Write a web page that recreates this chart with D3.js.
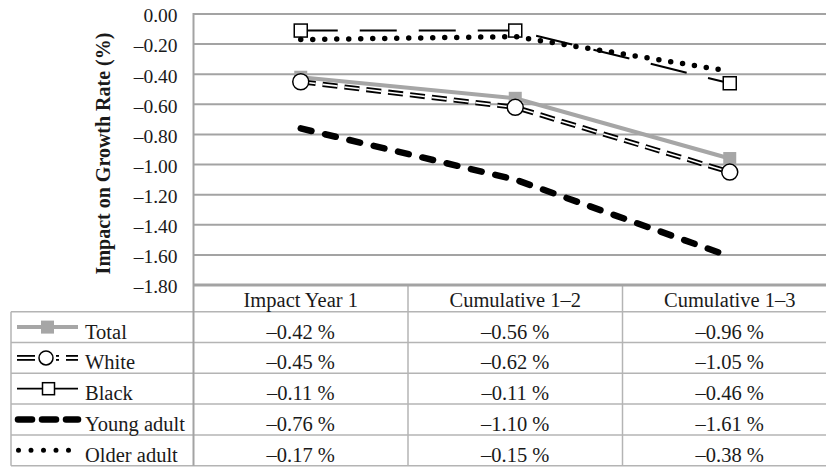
<!DOCTYPE html>
<html>
<head>
<meta charset="utf-8">
<script src="https://cdn.jsdelivr.net/npm/d3@7"></script>
<style>
  html, body { margin: 0; padding: 0; background: #fff; }
  svg { display: block; }
</style>
</head>
<body>
<svg id="chart" width="826" height="468" font-family="Liberation Serif"></svg>
<script>
// Periods shown on the x axis / table columns
const periods = ["Impact Year 1", "Cumulative 1\u20132", "Cumulative 1\u20133"];

// Impact on growth rate (%) by group
const totalValues = [-0.42, -0.56, -0.96];
const whiteValues = [-0.45, -0.62, -1.05];
const blackValues = [-0.11, -0.11, -0.46];
const youngValues = [-0.76, -1.10, -1.61];
const olderValues = [-0.17, -0.15, -0.38];

const seriesNames = ["Total", "White", "Black", "Young adult", "Older adult"];

// Y axis ticks
const yTicks = [0, -0.2, -0.4, -0.6, -0.8, -1.0, -1.2, -1.4, -1.6, -1.8];

const series = [
  { name: seriesNames[0], values: totalValues, kind: "total" },
  { name: seriesNames[1], values: whiteValues, kind: "white" },
  { name: seriesNames[2], values: blackValues, kind: "black" },
  { name: seriesNames[3], values: youngValues, kind: "young" },
  { name: seriesNames[4], values: olderValues, kind: "older" }
];

const FONT = "Liberation Serif";
const FS_TICK = 19.5;
const FS = 20.5;
const textColor = "#1a1a1a";

const svg = d3.select("#chart");
const gridColor = "#a3a3a3";
const tableColor = "#b4b4b4";
const grey = "#a6a6a6";

const plotLeft = 193.5, plotRight = 837, plotTop = 14, plotBottom = 285;
const tableLeft = 11, headerBottom = 311.7, tableBottom = 465.7;

const x = d3.scaleBand().domain(periods).range([plotLeft, plotRight]).padding(0);
const y = d3.scaleLinear().domain([-1.8, 0]).range([plotBottom, plotTop]);
const rows = d3.scaleBand().domain(seriesNames).range([headerBottom, tableBottom]).padding(0);

const fmt = v => (v < 0 ? "\u2013" : "") + Math.abs(v).toFixed(2);

// Gridlines
svg.append("g")
  .selectAll("line")
  .data(yTicks.filter(t => t !== -1.8))
  .join("line")
  .attr("x1", plotLeft).attr("x2", plotRight)
  .attr("y1", d => y(d)).attr("y2", d => y(d))
  .attr("stroke", gridColor).attr("stroke-width", 2);

// Y axis labels
const yAxis = d3.axisLeft(y).tickValues(yTicks).tickFormat(fmt).tickSize(0).tickPadding(16);
const yg = svg.append("g").attr("transform", `translate(${plotLeft},0)`).call(yAxis)
  .attr("font-family", FONT).attr("font-size", FS_TICK);
yg.select(".domain").remove();
yg.selectAll("text")
  .attr("font-family", FONT)
  .attr("font-size", FS_TICK)
  .attr("fill", textColor)
  .attr("dy", "0.4em");

// Y axis title
svg.append("text")
  .attr("transform", `translate(110,${(plotTop + plotBottom) / 2 + 4}) rotate(-90)`)
  .attr("text-anchor", "middle")
  .attr("font-family", FONT)
  .attr("font-size", 20)
  .attr("font-weight", "bold")
  .attr("fill", textColor)
  .text("Impact on Growth Rate (%)");

// Data table grid
const tg = svg.append("g").attr("stroke", tableColor).attr("stroke-width", 1.5);
tg.selectAll("line.row")
  .data(seriesNames)
  .join("line")
  .attr("x1", tableLeft).attr("x2", plotRight)
  .attr("y1", d => rows(d) + rows.bandwidth()).attr("y2", d => rows(d) + rows.bandwidth());
tg.append("line")
  .attr("x1", tableLeft).attr("x2", plotRight)
  .attr("y1", headerBottom).attr("y2", headerBottom);
tg.append("line").attr("x1", tableLeft).attr("x2", tableLeft).attr("y1", headerBottom).attr("y2", tableBottom);
tg.selectAll("line.col")
  .data(periods.slice(1))
  .join("line")
  .attr("x1", d => x(d)).attr("x2", d => x(d))
  .attr("y1", plotBottom).attr("y2", tableBottom);

// Plot frame: left axis line and bottom line
svg.append("line")
  .attr("x1", plotLeft).attr("x2", plotLeft)
  .attr("y1", plotTop - 1).attr("y2", tableBottom)
  .attr("stroke", gridColor).attr("stroke-width", 2);
svg.append("line")
  .attr("x1", plotLeft).attr("x2", plotRight)
  .attr("y1", plotBottom).attr("y2", plotBottom)
  .attr("stroke", gridColor).attr("stroke-width", 2.8);

// Line styles per series
function drawLine(g, pts, kind) {
  const p = d3.line()(pts);
  const base = () => g.append("path").attr("d", p).attr("fill", "none");
  if (kind === "total") {
    base().attr("stroke", grey).attr("stroke-width", 4);
  } else if (kind === "white") {
    base().attr("stroke", "#000").attr("stroke-width", 5.2).attr("stroke-dasharray", "15,7");
    base().attr("stroke", "#fff").attr("stroke-width", 1.6).attr("stroke-dasharray", "15,7");
  } else if (kind === "black") {
    base().attr("stroke", "#000").attr("stroke-width", 2).attr("stroke-dasharray", "37,22");
  } else if (kind === "young") {
    base().attr("stroke", "#000").attr("stroke-width", 6.5)
      .attr("stroke-linecap", "round").attr("stroke-dasharray", "11,14");
  } else if (kind === "older") {
    base().attr("stroke", "#000").attr("stroke-width", 5.5)
      .attr("stroke-linecap", "round").attr("stroke-dasharray", "0,12");
  }
}

function drawMarker(g, cx, cy, kind, size) {
  if (kind === "total") {
    g.append("rect").attr("x", cx - size / 2).attr("y", cy - size / 2)
      .attr("width", size).attr("height", size).attr("fill", grey);
  } else if (kind === "white") {
    g.append("circle").attr("cx", cx).attr("cy", cy).attr("r", size / 2 + 0.5)
      .attr("fill", "#fff").attr("stroke", "#000").attr("stroke-width", 1.5);
  } else if (kind === "black") {
    g.append("rect").attr("x", cx - size / 2).attr("y", cy - size / 2)
      .attr("width", size).attr("height", size)
      .attr("fill", "#fff").attr("stroke", "#000").attr("stroke-width", 1.5);
  }
}

// Series lines and markers
const center = d => x(d) + x.bandwidth() / 2;
series.forEach(s => {
  const g = svg.append("g").attr("class", "series");
  const pts = s.values.map((v, i) => [center(periods[i]), y(v)]);
  drawLine(g, pts, s.kind);
  pts.forEach(([cx, cy]) => drawMarker(g, cx, cy, s.kind, s.kind === "white" ? 15 : 13));
});

// Table header
svg.append("g")
  .selectAll("text")
  .data(periods)
  .join("text")
  .attr("x", d => center(d))
  .attr("y", headerBottom - 5)
  .attr("text-anchor", "middle")
  .attr("font-family", FONT)
  .attr("font-size", FS)
  .attr("fill", textColor)
  .text(d => d);

// Table rows: legend key, name, values
series.forEach(s => {
  const top = rows(s.name), h = rows.bandwidth();
  const cy = top + h / 2;
  const g = svg.append("g");
  if (s.kind === "white") {
    const segs = [[17, 35], [56, 59], [66, 78]];
    segs.forEach(([a, b]) => {
      [-2, 2].forEach(off => {
        g.append("line").attr("x1", a).attr("x2", b).attr("y1", cy + off).attr("y2", cy + off)
          .attr("stroke", "#000").attr("stroke-width", 1.8);
      });
    });
    drawMarker(g, 46, cy, "white", 13);
  } else if (s.kind === "young") {
    [[18, 32], [42, 56], [66, 78]].forEach(([a, b]) => {
      g.append("line").attr("x1", a).attr("x2", b).attr("y1", cy).attr("y2", cy)
        .attr("stroke", "#000").attr("stroke-width", 6.5).attr("stroke-linecap", "round");
    });
  } else if (s.kind === "older") {
    g.append("line").attr("x1", 18.5).attr("x2", 69).attr("y1", cy).attr("y2", cy)
      .attr("stroke", "#000").attr("stroke-width", 5).attr("stroke-linecap", "round")
      .attr("stroke-dasharray", "0,12.5");
  } else {
    g.append("line").attr("x1", 17).attr("x2", 78).attr("y1", cy).attr("y2", cy)
      .attr("stroke", s.kind === "total" ? grey : "#000")
      .attr("stroke-width", s.kind === "total" ? 4 : 1.8);
    drawMarker(g, s.kind === "total" ? 47.5 : 48.5, cy, s.kind, s.kind === "total" ? 13 : 12);
  }
  g.append("text")
    .attr("x", 85).attr("y", top + h - 4)
    .attr("font-family", FONT)
    .attr("font-size", FS).attr("fill", textColor)
    .text(s.name);
  g.selectAll("text.val")
    .data(s.values)
    .join("text")
    .attr("class", "val")
    .attr("x", (v, i) => center(periods[i]))
    .attr("y", top + h - 4)
    .attr("text-anchor", "middle")
    .attr("font-family", FONT)
    .attr("font-size", FS).attr("fill", textColor)
    .text(v => fmt(v) + " %");
});
</script>
</body>
</html>
